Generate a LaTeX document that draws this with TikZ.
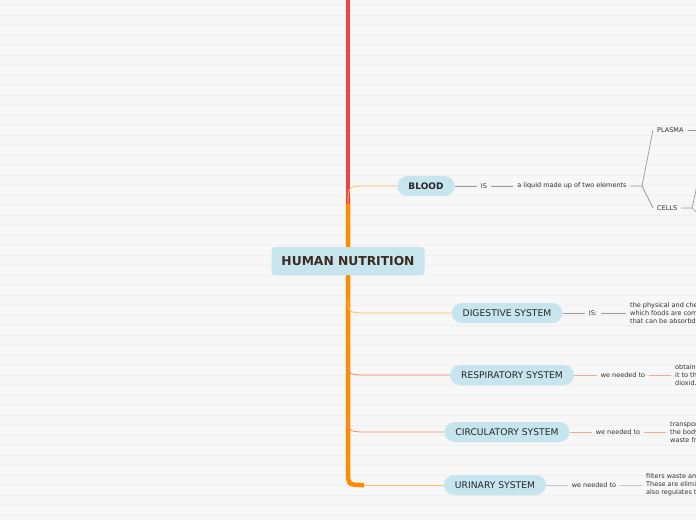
\documentclass[tikz,border=0pt]{standalone}
\usepackage{fontspec}
\setmainfont{DejaVu Sans}
\usetikzlibrary{positioning}
\definecolor{canvas}{HTML}{F7F7F7}
\definecolor{ruling}{HTML}{EFEFEF}
\definecolor{topicblue}{HTML}{C6E5EF}
\definecolor{trunkorange}{HTML}{FF8C00}
\definecolor{trunkred}{HTML}{EE4444}
\definecolor{lightorange}{HTML}{FFBE5C}
\definecolor{salmon}{HTML}{F4876A}
\definecolor{salmonlight}{HTML}{F6A88E}
\definecolor{inkbrown}{HTML}{3B2A1E}

\begin{document}
\begin{tikzpicture}[x=1pt, y=-1pt,
  central/.style={rectangle, fill=topicblue, rounded corners=3pt, minimum width=153pt, minimum height=28pt,
    font=\fontsize{12.3}{14}\selectfont\bfseries, text=inkbrown},
  topic/.style={rectangle, fill=topicblue, rounded corners=10pt, minimum height=20pt, inner xsep=11pt,
    font=\fontsize{9.2}{11}\selectfont, text=black!85},
  tag/.style={inner sep=4pt, font=\fontsize{6.5}{7.5}\selectfont, text=black!80},
  note/.style={tag, anchor=west, align=left, font=\fontsize{6.5}{8}\selectfont},
  grayline/.style={draw=gray!80, line width=0.7pt},
  paleline/.style={draw=gray!45, line width=0.9pt},
  salmonline/.style={draw=salmonlight, line width=0.7pt},
  branch/.style={line width=0.8pt}
]
  \useasboundingbox (0,0) rectangle (696,520);
  \clip (0,0) rectangle (696,520);
  \fill[canvas] (0,0) rectangle (696,520);
  \foreach \y in {5,15,...,515}
    \draw[ruling, line width=0.6pt] (0,\y) -- (696,\y);

  % trunk
  \draw[trunkorange, line width=4.5pt] (348,198) -- (348,470) .. controls (348,485) .. (364,485);
  \draw[trunkred, line width=4.5pt] (348,0) -- (348,204);

  \node[central] (root) at (348,261) {HUMAN NUTRITION};

  % main topics
  \node[topic, font=\fontsize{9}{11}\selectfont\bfseries] (blood) at (426,186) {BLOOD};
  \node[topic] (digest) at (507,313) {DIGESTIVE SYSTEM};
  \node[topic] (resp) at (512,375) {RESPIRATORY SYSTEM};
  \node[topic] (circ) at (507,432) {CIRCULATORY SYSTEM};
  \node[topic] (urin) at (495,485) {URINARY SYSTEM};

  \draw[branch, lightorange] (348,204) .. controls (348,186) .. (368,186) -- (blood.west);
  \draw[branch, lightorange] (348,298) .. controls (348,313) .. (370,313) -- (digest.west);
  \draw[branch, salmon] (348,360) .. controls (348,375) .. (370,375) -- (resp.west);
  \draw[branch, salmon] (348,417) .. controls (348,432) .. (370,432) -- (circ.west);
  \draw[branch, lightorange] (364,485) -- (urin.west);

  % blood
  \node[tag] (bloodis) at (484,186) {IS};
  \node[tag] (liquid) at (572,186) {a liquid made up of two elements};
  \coordinate (fork) at (642,186);
  \node[tag, anchor=west] (plasma) at (653,130) {PLASMA};
  \node[tag, anchor=west] (cells) at (653,208) {CELLS};
  \coordinate (plasmaend) at (705,130);
  \coordinate (cellsfork) at (692,208);
  \coordinate (cellsup) at (700,172);
  \coordinate (cellsdown) at (700,216);
  \draw[grayline] (blood) -- (bloodis);
  \draw[grayline] (bloodis) -- (liquid);
  \draw[grayline] (liquid) -- (fork) -- (plasma.west);
  \draw[grayline] (fork) -- (cells.west);
  \draw[grayline] (plasma) -- (plasmaend);
  \draw[grayline] (cells) -- (cellsfork) -- (cellsup);
  \draw[grayline] (cellsfork) -- (cellsdown);

  % digestive
  \node[tag] (digestis) at (593,313) {IS:};
  \node[note] (digestnote) at (626,313) {the physical and che\\which foods are com\\that can be absorbd};
  \draw[grayline] (digest) -- (digestis);
  \draw[grayline] (digestis) -- (digestnote);

  % respiratory
  \node[tag] (respneed) at (623,375) {we needed to};
  \node[note] (respnote) at (671,375) {obtain\\it to th\\dioxid.};
  \draw[salmonline] (resp) -- (respneed);
  \draw[salmonline] (respneed) -- (respnote);

  % circulatory
  \node[tag] (circneed) at (618,432) {we needed to};
  \node[note] (circnote) at (666,432) {transpor\\the body\\waste fr};
  \draw[salmonline] (circ) -- (circneed);
  \draw[salmonline] (circneed) -- (circnote);

  % urinary
  \node[tag] (urinneed) at (594,485) {we needed to};
  \node[note] (urinnote) at (642,485) {filters waste an\\These are elimi\\also regulates t};
  \draw[paleline] (urin) -- (urinneed);
  \draw[paleline] (urinneed) -- (urinnote);
\end{tikzpicture}
\end{document}
